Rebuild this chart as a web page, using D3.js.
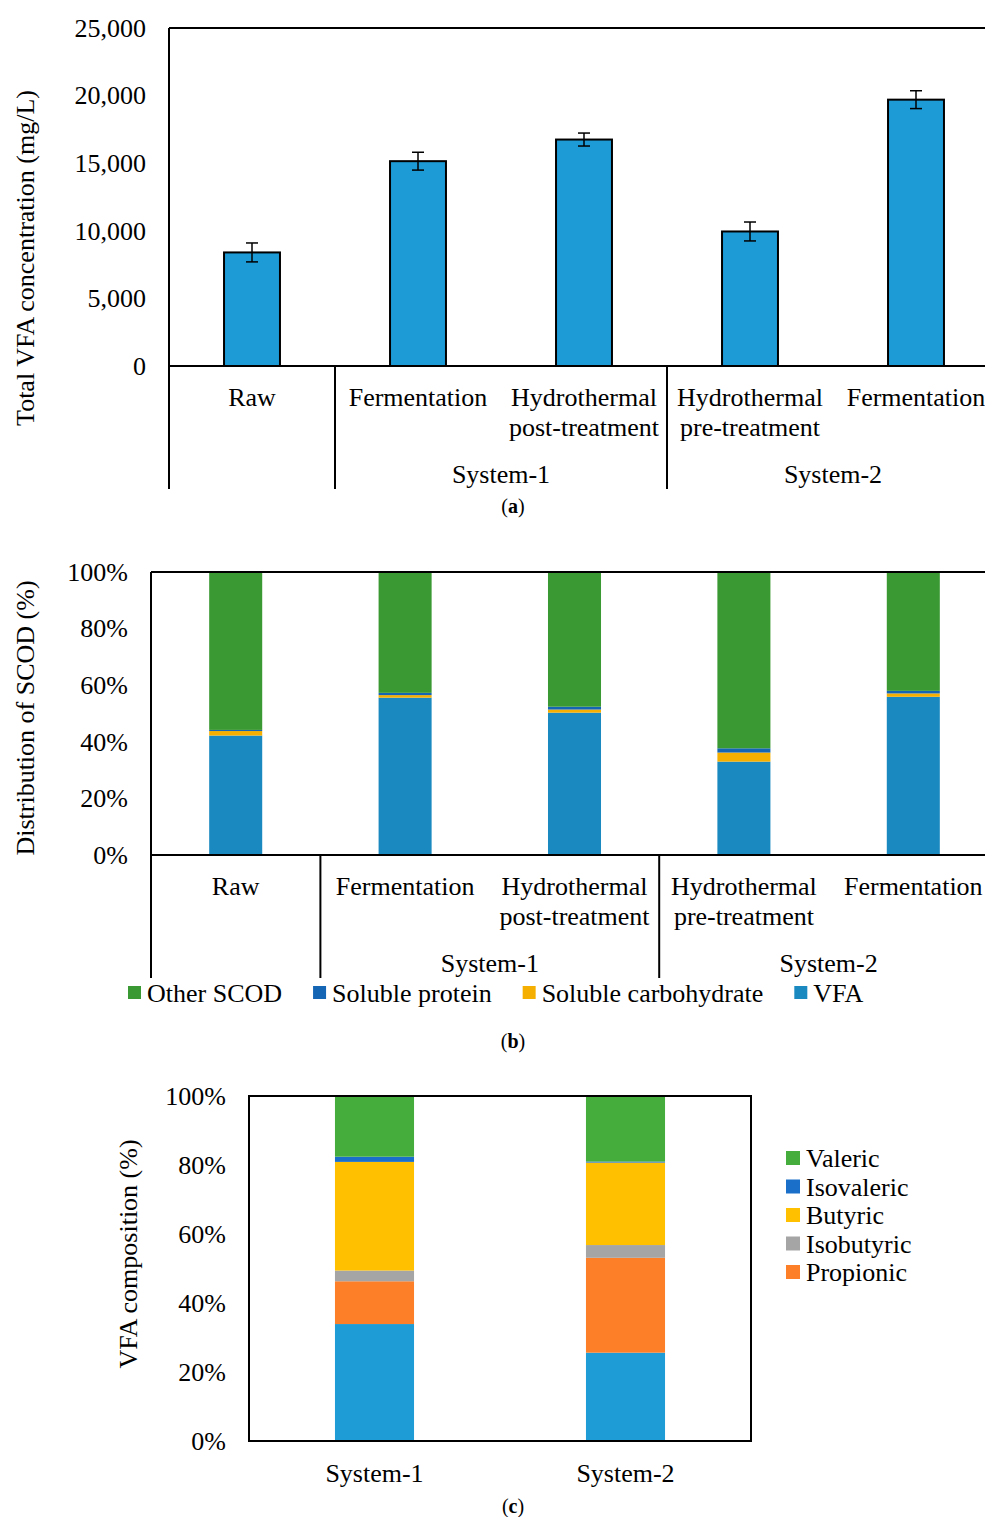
<!DOCTYPE html>
<html>
<head>
<meta charset="utf-8">
<script src="https://cdn.jsdelivr.net/npm/d3@7"></script>
<style>
  body { margin: 0; background: #fff; }
  text { font-family: "Liberation Serif", "Times New Roman", serif; fill: #000; }
</style>
</head>
<body>
<div id="chart"></div>
<script>
// ---- data ----
const catLines = [["Raw"], ["Fermentation"], ["Hydrothermal", "post-treatment"], ["Hydrothermal", "pre-treatment"], ["Fermentation"]];
const groups = [{name: "", from: 0, to: 0}, {name: "System-1", from: 1, to: 2}, {name: "System-2", from: 3, to: 4}];

// (a) total VFA, mg/L
const vfaTotal = [8400, 15150, 16750, 9950, 19700];
const vfaErr = [700, 660, 480, 700, 660];
const ticksA = [0, 5000, 10000, 15000, 20000, 25000];

// (b) SCOD distribution, %
const scodKeys = ["VFA", "Soluble carbohydrate", "Soluble protein", "Other SCOD"];
const scodVFA = [42.2, 55.6, 50.3, 33.0, 55.9];
const scodCarb = [1.6, 0.9, 1.1, 3.2, 1.2];
const scodProtein = [0.4, 0.8, 1.0, 1.5, 0.9];
const scodOther = [55.8, 42.7, 47.6, 62.3, 42.0];
const scodColors = ["#1989c0", "#f5af00", "#1565b5", "#3a9932"];
const pctTicks = [0, 20, 40, 60, 80, 100];

// (c) VFA composition, %
const systems = ["System-1", "System-2"];
const vfaKeys = ["Acetic", "Propionic", "Isobutyric", "Butyric", "Isovaleric", "Valeric"];
const acetic = [33.9, 25.6];
const propionic = [12.4, 27.5];
const isobutyric = [3.1, 3.7];
const butyric = [31.5, 23.9];
const isovaleric = [1.5, 0.3];
const valeric = [17.6, 19.0];
const vfaColors = ["#1e9cd6", "#fd7f28", "#a5a5a5", "#ffc000", "#1a6fc9", "#44ad3c"];
const legendC = ["Valeric", "Isovaleric", "Butyric", "Isobutyric", "Propionic"];

const W = 985, H = 1517, FS = 26;

const svg = d3.select("#chart").append("svg")
    .attr("width", W)
    .attr("height", H);

// draws the y tick labels of a panel
function yLabels(y, x0, values, fmt) {
  const g = svg.append("g")
      .attr("transform", `translate(${x0},0)`)
      .call(d3.axisLeft(y).tickValues(values).tickSize(0).tickPadding(23).tickFormat(fmt));
  g.select(".domain").remove();
  g.selectAll("text")
      .style("font-family", '"Liberation Serif", "Times New Roman", serif')
      .style("font-size", FS + "px")
      .attr("fill", "#000");
}

// category labels with group separators under a band axis
function catAxis(x, base, lineEnd) {
  const step = x.step(), r0 = x.range()[0];
  catLines.forEach((lines, i) => {
    lines.forEach((t, j) => {
      svg.append("text")
          .attr("x", x(i) + x.bandwidth() / 2)
          .attr("y", base + 31 + j * 30)
          .attr("dy", "0.35em")
          .attr("text-anchor", "middle")
          .style("font-size", FS + "px")
          .text(t);
    });
  });
  groups.forEach(gr => {
    svg.append("line")
        .attr("x1", r0 + step * gr.from).attr("x2", r0 + step * gr.from)
        .attr("y1", base).attr("y2", lineEnd)
        .attr("stroke", "#000").attr("stroke-width", 2);
    if (gr.name) {
      svg.append("text")
          .attr("x", r0 + step * (gr.from + gr.to + 1) / 2)
          .attr("y", base + 108)
          .attr("dy", "0.35em")
          .attr("text-anchor", "middle")
          .style("font-size", FS + "px")
          .text(gr.name);
    }
  });
}

function yTitle(text, cx, cy) {
  svg.append("text")
      .attr("transform", `translate(${cx},${cy}) rotate(-90)`)
      .attr("dy", "0.35em")
      .attr("text-anchor", "middle")
      .style("font-size", FS + "px")
      .text(text);
}

function caption(letter, cx, cy) {
  const t = svg.append("text")
      .attr("x", cx).attr("y", cy).attr("dy", "0.35em")
      .attr("text-anchor", "middle")
      .style("font-size", "20px");
  t.append("tspan").text("(");
  t.append("tspan").style("font-weight", "bold").text(letter);
  t.append("tspan").text(")");
}

// ---------- (a) ----------
const xA = d3.scaleBand().domain(d3.range(5)).range([169, 999]).paddingInner(0.663).paddingOuter(0.3315);
const yA = d3.scaleLinear().domain([0, 25000]).range([366, 28]);

svg.append("g").selectAll("rect")
  .data(vfaTotal)
  .join("rect")
    .attr("x", (d, i) => xA(i))
    .attr("y", d => yA(d))
    .attr("width", xA.bandwidth())
    .attr("height", d => yA(0) - yA(d))
    .attr("fill", "#1d9bd6")
    .attr("stroke", "#000")
    .attr("stroke-width", 2);

// error bars
const eb = svg.append("g").attr("stroke", "#000").attr("stroke-width", 1.5);
vfaTotal.forEach((v, i) => {
  const cx = xA(i) + xA.bandwidth() / 2;
  eb.append("line").attr("x1", cx).attr("x2", cx).attr("y1", yA(v + vfaErr[i])).attr("y2", yA(v - vfaErr[i]));
  eb.append("line").attr("x1", cx - 6).attr("x2", cx + 6).attr("y1", yA(v + vfaErr[i])).attr("y2", yA(v + vfaErr[i]));
  eb.append("line").attr("x1", cx - 6).attr("x2", cx + 6).attr("y1", yA(v - vfaErr[i])).attr("y2", yA(v - vfaErr[i]));
});

svg.append("line").attr("x1", 169).attr("x2", W).attr("y1", 28).attr("y2", 28).attr("stroke", "#000").attr("stroke-width", 2);
svg.append("line").attr("x1", 169).attr("x2", 169).attr("y1", 28).attr("y2", 366).attr("stroke", "#000").attr("stroke-width", 2);
svg.append("line").attr("x1", 169).attr("x2", W).attr("y1", 366).attr("y2", 366).attr("stroke", "#000").attr("stroke-width", 2);
yLabels(yA, 169, ticksA, d3.format(","));
catAxis(xA, 366, 489);
yTitle("Total VFA concentration (mg/L)", 25, 258);
caption("a", 513, 506);

// ---------- (b) ----------
const xB = d3.scaleBand().domain(d3.range(5)).range([151, 998]).paddingInner(0.687).paddingOuter(0.3435);
const yB = d3.scaleLinear().domain([0, 100]).range([855, 572]);

const scodTable = catLines.map((c, i) => ({
  i: i,
  "VFA": scodVFA[i],
  "Soluble carbohydrate": scodCarb[i],
  "Soluble protein": scodProtein[i],
  "Other SCOD": scodOther[i]
}));
const scodStack = d3.stack().keys(scodKeys)(scodTable);

svg.append("g").selectAll("g")
  .data(scodStack)
  .join("g")
    .attr("fill", (d, k) => scodColors[k])
  .selectAll("rect")
  .data(d => d)
  .join("rect")
    .attr("x", d => xB(d.data.i))
    .attr("y", d => yB(d[1]))
    .attr("width", xB.bandwidth())
    .attr("height", d => yB(d[0]) - yB(d[1]));

svg.append("line").attr("x1", 151).attr("x2", W).attr("y1", 572).attr("y2", 572).attr("stroke", "#000").attr("stroke-width", 2);
svg.append("line").attr("x1", 151).attr("x2", 151).attr("y1", 572).attr("y2", 855).attr("stroke", "#000").attr("stroke-width", 2);
svg.append("line").attr("x1", 151).attr("x2", W).attr("y1", 855).attr("y2", 855).attr("stroke", "#000").attr("stroke-width", 2);
yLabels(yB, 151, pctTicks, d => d + "%");
catAxis(xB, 855, 978);
yTitle("Distribution of SCOD (%)", 25, 718);

// legend (b)
let lx = 128;
scodKeys.slice().reverse().forEach(k => {
  const ci = scodKeys.indexOf(k);
  svg.append("rect").attr("x", lx).attr("y", 986).attr("width", 13).attr("height", 13).attr("fill", scodColors[ci]);
  const t = svg.append("text")
      .attr("x", lx + 19).attr("y", 993).attr("dy", "0.35em")
      .style("font-size", FS + "px")
      .text(k);
  lx += 19 + t.node().getComputedTextLength() + 31;
});
caption("b", 513, 1041);

// ---------- (c) ----------
const xC = d3.scaleBand().domain(systems).range([249, 751]).paddingInner(0.685).paddingOuter(0.3425);
const yC = d3.scaleLinear().domain([0, 100]).range([1441, 1096]);

const vfaTable = systems.map((s, i) => ({
  s: s,
  "Acetic": acetic[i],
  "Propionic": propionic[i],
  "Isobutyric": isobutyric[i],
  "Butyric": butyric[i],
  "Isovaleric": isovaleric[i],
  "Valeric": valeric[i]
}));
const vfaStack = d3.stack().keys(vfaKeys)(vfaTable);

svg.append("g").selectAll("g")
  .data(vfaStack)
  .join("g")
    .attr("fill", (d, k) => vfaColors[k])
  .selectAll("rect")
  .data(d => d)
  .join("rect")
    .attr("x", d => xC(d.data.s))
    .attr("y", d => yC(d[1]))
    .attr("width", xC.bandwidth())
    .attr("height", d => yC(d[0]) - yC(d[1]));

svg.append("rect")
    .attr("x", 249).attr("y", 1096).attr("width", 502).attr("height", 345)
    .attr("fill", "none").attr("stroke", "#000").attr("stroke-width", 2);
yLabels(yC, 249, pctTicks, d => d + "%");

systems.forEach(s => {
  svg.append("text")
      .attr("x", xC(s) + xC.bandwidth() / 2)
      .attr("y", 1473).attr("dy", "0.35em")
      .attr("text-anchor", "middle")
      .style("font-size", FS + "px")
      .text(s);
});
yTitle("VFA composition (%)", 128, 1254);

legendC.forEach((k, j) => {
  const cy = 1158 + j * 28.5;
  svg.append("rect").attr("x", 786).attr("y", cy - 7).attr("width", 14).attr("height", 14)
      .attr("fill", vfaColors[vfaKeys.indexOf(k)]);
  svg.append("text")
      .attr("x", 806).attr("y", cy).attr("dy", "0.35em")
      .style("font-size", FS + "px")
      .text(k);
});
caption("c", 513, 1506);
</script>
</body>
</html>
